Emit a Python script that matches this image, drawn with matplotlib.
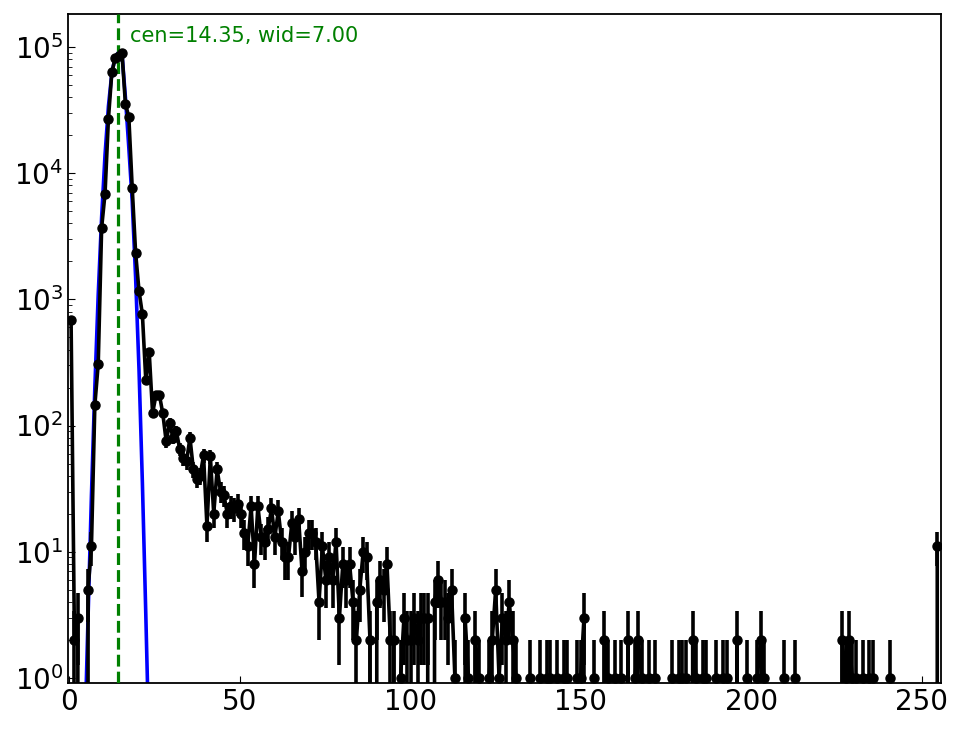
import numpy as np
import matplotlib
matplotlib.use('Agg')
import matplotlib.pyplot as plt

# histogram counts, 256 bins over 0..255
counts = [
    690, 2, 3, 0, 0, 5, 11, 145, 310, 3700, 6900, 27000, 63000, 82000, 85000, 90000,
    35500, 28000, 7700, 2350, 1170, 760, 230, 385, 125, 175, 175, 125, 75, 105, 80, 90,
    65, 55, 52, 80, 45, 38, 40, 58, 16, 57, 20, 45, 30, 28, 20, 23,
    22, 24, 20, 14, 11, 23, 8, 23, 13, 12, 15, 22, 13, 21, 12, 9,
    9, 17, 13, 18, 7, 10, 14, 14, 12, 4, 11, 6, 9, 6, 12, 3,
    8, 6, 8, 4, 2, 5, 10, 9, 2, 0, 4, 6, 5, 8, 2, 2,
    0, 1, 3, 2, 2, 3, 2, 3, 3, 3, 0, 4, 6, 4, 4, 3,
    5, 1, 0, 0, 3, 1, 0, 2, 1, 0, 0, 1, 2, 5, 1, 3,
    2, 4, 2, 1, 0, 0, 0, 1, 0, 0, 1, 0, 1, 1, 0, 1,
    0, 1, 1, 0, 0, 1, 1, 3, 0, 0, 1, 0, 0, 2, 1, 0,
    1, 0, 1, 0, 2, 0, 1, 2, 1, 0, 1, 0, 1, 0, 0, 0,
    0, 1, 0, 1, 1, 1, 0, 2, 1, 0, 1, 1, 0, 0, 1, 0,
    1, 1, 0, 0, 2, 0, 0, 1, 0, 0, 1, 2, 1, 0, 0, 0,
    0, 0, 1, 0, 0, 1, 0, 0, 0, 0, 0, 0, 0, 0, 0, 0,
    0, 0, 0, 2, 1, 2, 1, 1, 0, 1, 0, 1, 1, 0, 0, 0,
    0, 1, 0, 0, 0, 0, 0, 0, 0, 0, 0, 0, 0, 0, 0, 11,
]

# fitted peak curve, bins 4..23
fit_bins = list(range(4, 24))
fit_vals = [0.3, 3, 28, 200, 1100, 4500, 14000, 34000, 62000, 84000,
            91000, 88000, 40000, 16000, 6000, 1500, 280, 35, 3.2, 0.25]

cen = 14.35
wid = 7.00

counts = np.array(counts, dtype=float)
edges = np.linspace(0, 255, 257)
centers = 0.5 * (edges[:-1] + edges[1:])
errs = np.sqrt(counts)

fig = plt.figure(figsize=(9.64, 7.29), dpi=100)
ax = fig.add_axes([68/964, 1 - 683/729, (941-68)/964, (683-14)/729])
ax.set_yscale('log')

ax.plot(centers[fit_bins], fit_vals, '-', color='blue', lw=2.6, zorder=2)
ax.axvline(cen, color='green', ls='--', lw=2.3, zorder=3)
ax.errorbar(centers, counts, yerr=errs, fmt='-o', color='black', lw=2.6,
            elinewidth=2.6, ms=6.5, capsize=0, zorder=4)
ax.text(cen + wid/2, 1.22e5, 'cen=%.2f, wid=%.2f' % (cen, wid),
        color='green', fontsize=15, va='center', ha='left')

ax.set_xlim(-0.4, 255.6)
ax.set_ylim(0.91, 1.83e5)
ax.set_xticks([0, 50, 100, 150, 200, 250])
ax.tick_params(axis='both', which='both', direction='in', labelsize=20)
ax.tick_params(axis='both', which='major', length=5)
ax.tick_params(axis='both', which='minor', length=3)
ax.tick_params(axis='x', which='minor', bottom=False)
for s in ax.spines.values():
    s.set_linewidth(1.3)

fig.savefig('out.png', dpi=100)
